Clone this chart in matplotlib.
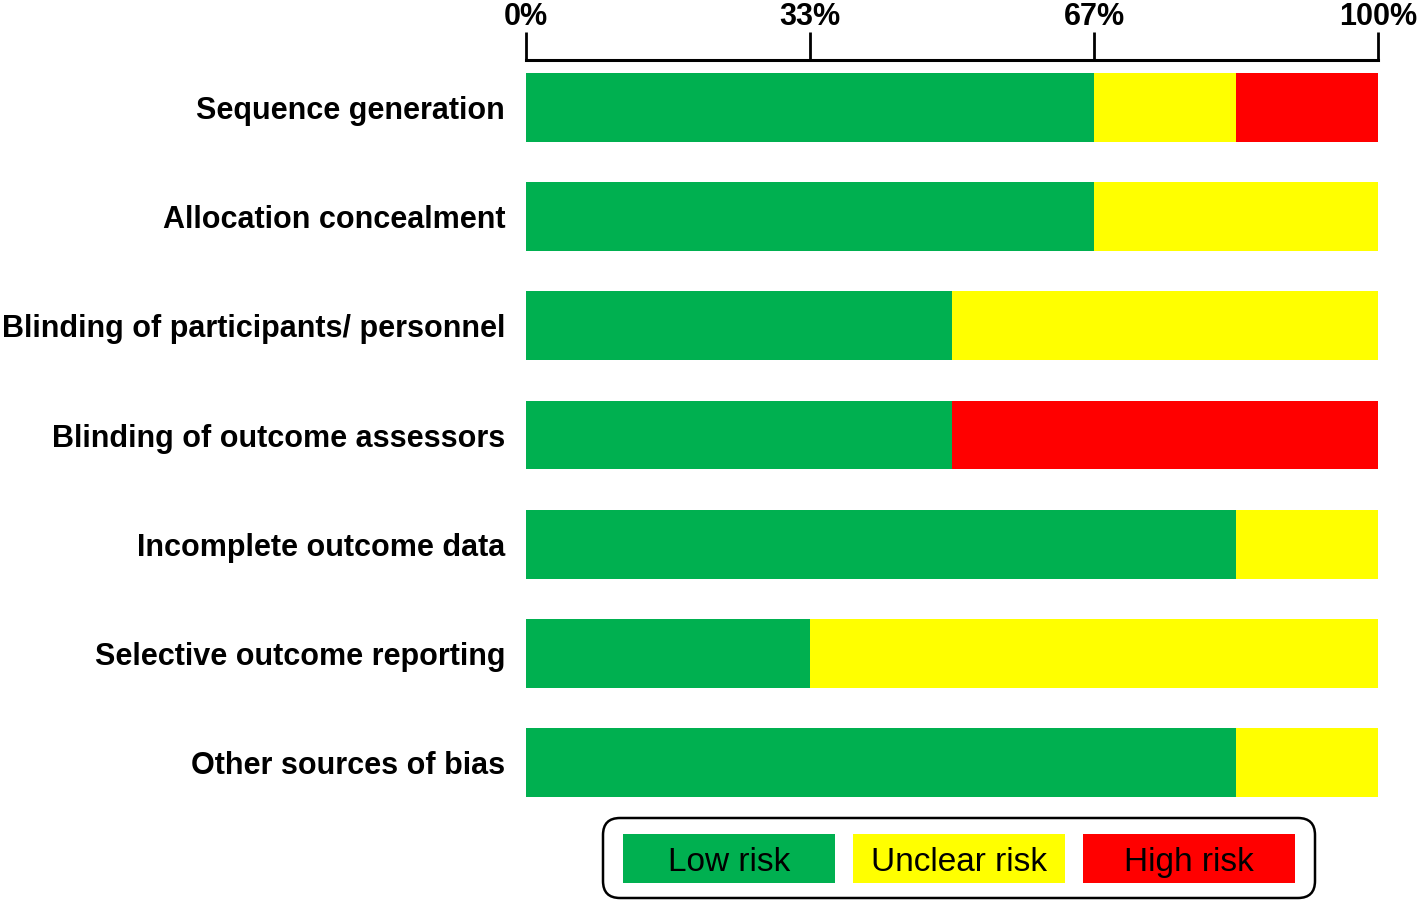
import numpy as np
import matplotlib.pyplot as plt
from matplotlib.patches import FancyBboxPatch, Rectangle
from matplotlib import font_manager

# risk of bias domains, counts of studies (6 studies)
domains = ['Sequence generation', 'Allocation concealment',
           'Blinding of participants/ personnel', 'Blinding of outcome assessors',
           'Incomplete outcome data', 'Selective outcome reporting',
           'Other sources of bias']
low_risk = [4, 4, 3, 3, 5, 2, 5]
unclear_risk = [1, 2, 3, 0, 1, 4, 1]
high_risk = [1, 0, 0, 3, 0, 0, 0]
n_studies = 6

tick_vals = [0, 100/3, 200/3, 100]
tick_labels = ['0%', '33%', '67%', '100%']
legend_labels = ['Low risk', 'Unclear risk', 'High risk']
colors = ['#00B050', '#FFFF00', '#FF0000']

names = {f.name for f in font_manager.fontManager.ttflist}
narrow = 'Liberation Sans Narrow' if 'Liberation Sans Narrow' in names else 'Liberation Sans'

fig = plt.figure(figsize=(14.18, 9.02), dpi=100)
W, H = 1418, 902
ax = fig.add_axes([526/W, 1 - 797/H, (1378-526)/W, (797-60)/H])

y = np.arange(len(domains))
low = np.array(low_risk) * 100 / n_studies
unc = np.array(unclear_risk) * 100 / n_studies
high = np.array(high_risk) * 100 / n_studies

bh = 0.63
ax.barh(y, low, height=bh, color=colors[0], linewidth=0)
ax.barh(y, unc, left=low, height=bh, color=colors[1], linewidth=0)
ax.barh(y, high, left=low + unc, height=bh, color=colors[2], linewidth=0)

ax.set_xlim(0, 100)
ax.set_ylim(6.315, -0.435)

for s in ['bottom', 'left', 'right']:
    ax.spines[s].set_visible(False)
ax.spines['top'].set_linewidth(2.2)

ax.xaxis.tick_top()
ax.set_xticks(tick_vals)
ax.set_xticklabels(tick_labels, fontfamily=narrow, fontweight='bold', fontsize=22)
ax.tick_params(axis='x', direction='out', length=20, width=2, pad=0)

ax.set_yticks(y)
ax.set_yticklabels(domains, fontfamily='Liberation Sans', fontweight='bold', fontsize=22)
ax.tick_params(axis='y', length=0, pad=15)

# legend box
box = FancyBboxPatch((603/W, 1 - 898/H), (1315-603)/W, (898-818)/H,
                     boxstyle='round,pad=0,rounding_size=0.012',
                     transform=fig.transFigure, facecolor='white',
                     edgecolor='black', linewidth=1.8, mutation_aspect=W/H)
fig.patches.append(box)
lefts = [623, 853, 1083]
for lx, lab, c in zip(lefts, legend_labels, colors):
    fig.patches.append(Rectangle((lx/W, 1 - 883/H), 212/W, 49/H,
                                 transform=fig.transFigure, facecolor=c, edgecolor='none'))
    fig.text((lx + 106)/W, 1 - 871/H, lab, ha='center', va='baseline',
             fontfamily=narrow, fontsize=24, color='black')

fig.savefig('out.png', dpi=100)
